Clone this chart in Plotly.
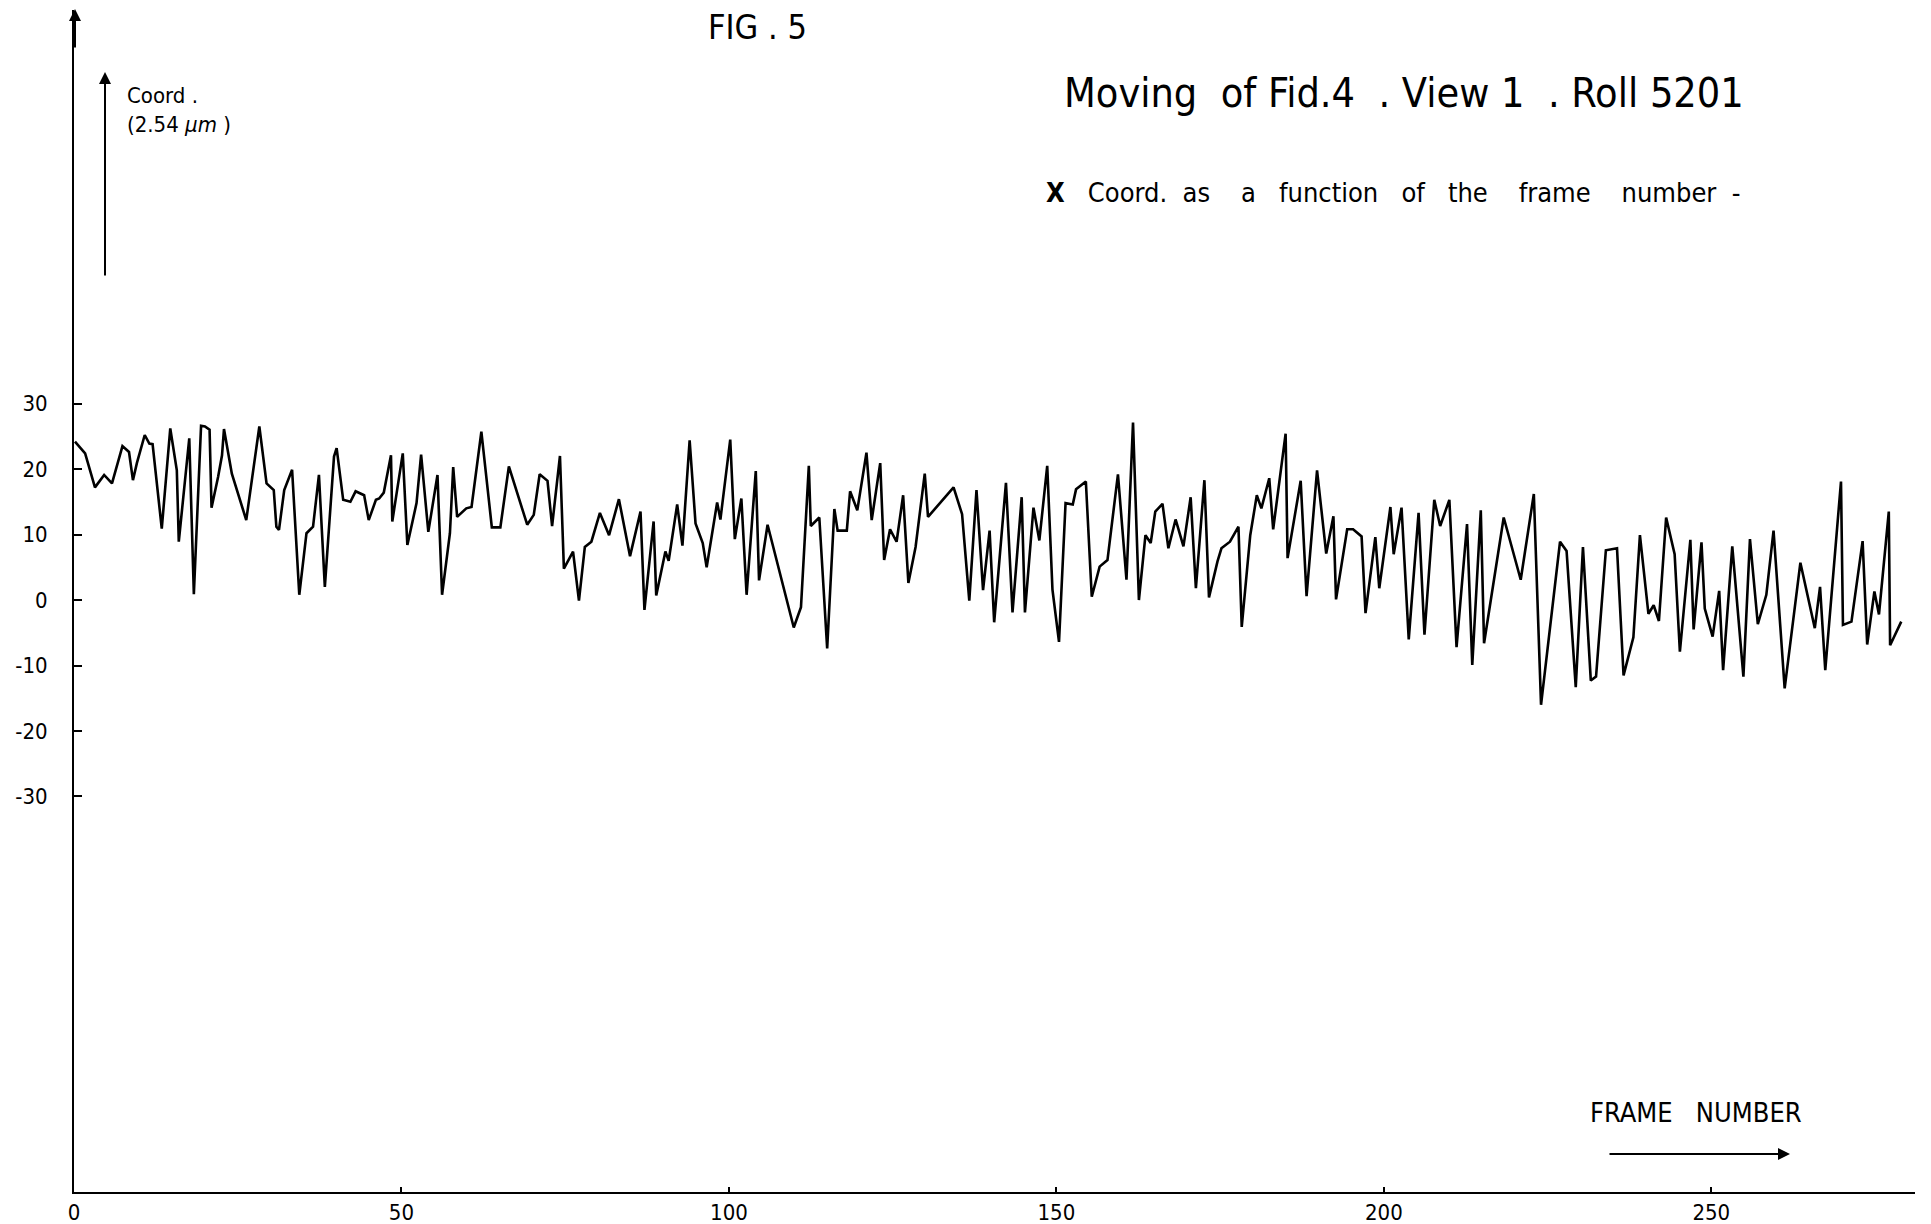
import plotly.graph_objects as go

# ---- data (frame number, X coordinate in units of 2.54 um) ----
frame_number = [
    0.15, 1.7, 3.2, 4.6, 5.8, 7.4, 8.4, 9.0, 9.6, 10.8, 11.5, 12.0, 13.4, 14.7, 15.7, 16.0, 17.6, 18.3,
    19.4, 20.0, 20.7, 21.0, 22.0, 22.6, 22.9, 24.1, 26.3, 28.3,
    29.4, 30.5, 30.9, 31.3, 32.1, 33.3, 34.4, 35.5, 36.5, 37.4, 38.3, 39.7, 40.1, 41.1, 42.2, 43.0,
    44.3, 45.0, 46.1, 46.6, 47.3, 48.4, 48.6, 50.2, 50.9, 52.3, 53.0, 54.1, 55.5, 56.2,
    57.4, 57.9, 58.5, 59.9, 60.7, 62.2, 63.8, 65.1, 66.4, 69.2, 70.2, 71.1, 72.3, 73.0, 74.2, 74.8,
    76.2, 77.1, 78.0, 79.0, 80.3, 81.7, 83.2,
    84.9, 86.5, 87.1, 88.5, 88.9, 90.3, 90.8, 92.1, 92.9, 94.0, 94.9, 96.0, 96.6, 98.2, 98.7, 100.2,
    100.9, 101.9, 102.7, 104.1, 104.6, 105.9, 109.9, 111.0, 112.2, 112.5,
    113.8, 115.0, 116.1, 116.6, 118.0, 118.5, 119.6, 121.0, 121.8, 123.1, 123.7, 124.6, 125.6, 126.6,
    127.4, 128.5, 129.9, 130.4, 132.7, 134.3, 135.6, 136.7, 137.8, 138.8, 139.8, 140.5,
    142.3, 143.3, 144.7, 145.2, 146.5, 147.4, 148.6, 149.4, 150.4, 151.4, 152.5, 153.0, 154.5, 155.4,
    156.6, 157.8, 159.4, 160.7, 161.7, 162.6, 163.6, 164.4, 165.1, 166.2, 167.1, 168.2,
    169.4, 170.5, 171.3, 172.6, 173.3, 174.6, 175.2, 176.5, 177.8, 178.3, 179.6, 180.6, 181.3, 182.5,
    183.1, 185.0, 185.3, 187.3, 188.2, 189.8, 191.2, 192.3, 192.7, 194.4, 195.3, 196.6,
    197.2, 198.7, 199.3, 201.0, 201.5, 202.7, 203.8, 205.3, 206.2, 207.7, 208.6, 210.0, 211.1, 212.7,
    213.5, 214.8, 215.3, 218.3, 220.9, 222.9, 224.0,
    226.9, 227.9, 229.3, 230.4, 231.6, 232.4, 233.9, 235.6, 236.6, 238.1, 239.1, 240.4, 241.2, 242.0,
    243.1, 244.4, 245.2, 246.8, 247.3, 248.5, 249.0, 250.2, 251.2, 251.8,
    253.2, 254.9, 255.9, 257.1, 258.4, 259.5, 261.2, 263.6, 265.8, 266.6, 267.4, 269.8, 270.1, 271.4,
    273.1, 273.8, 274.9, 275.6, 277.1, 277.3, 279.0,
]
x_coord = [
    24.2, 22.4, 17.2, 19.1, 17.8, 23.5, 22.6, 18.3, 20.9, 25.2, 23.9, 23.8, 10.9, 26.2, 19.8, 8.9, 24.7, 0.9,
    26.6, 26.5, 26.0, 14.1, 18.8, 22.1, 26.1, 19.3, 12.2, 26.5,
    17.8, 16.8, 11.2, 10.7, 16.8, 19.9, 0.8, 10.2, 11.2, 19.1, 2.0, 21.9, 23.2, 15.3, 15.0, 16.6,
    16.0, 12.2, 15.3, 15.5, 16.4, 22.1, 12.0, 22.4, 8.4, 14.8, 22.2, 10.4, 19.1, 0.8,
    10.2, 20.3, 12.7, 14.0, 14.2, 25.7, 11.1, 11.1, 20.4, 11.5, 13.0, 19.2, 18.2, 11.3, 22.0, 4.8,
    7.4, -0.1, 8.1, 8.9, 13.3, 9.9, 15.4,
    6.7, 13.5, -1.5, 12.0, 0.7, 7.4, 6.0, 14.6, 8.3, 24.4, 11.7, 8.7, 5.0, 14.9, 12.3, 24.5,
    9.3, 15.5, 0.8, 19.7, 3.0, 11.5, -4.2, -1.1, 20.5, 11.3,
    12.6, -7.4, 13.9, 10.6, 10.6, 16.6, 13.7, 22.5, 12.2, 20.9, 6.1, 10.8, 8.9, 16.0,
    2.6, 8.1, 19.3, 12.7, 15.3, 17.2, 13.1, -0.1, 16.8, 1.5, 10.6, -3.4,
    17.9, -1.9, 15.7, -1.9, 14.1, 9.1, 20.5, 1.6, -6.4, 14.8, 14.6, 16.9, 18.1, 0.5,
    5.1, 6.1, 19.2, 3.1, 27.1, 0.0, 9.9, 8.7, 13.5, 14.7, 7.9, 12.3,
    8.2, 15.7, 1.8, 18.3, 0.4, 5.9, 7.9, 8.9, 11.2, -4.1, 9.9, 16.0, 14.0, 18.6,
    10.8, 25.4, 6.4, 18.2, 0.6, 19.8, 7.1, 12.8, 0.1, 10.8, 10.8, 9.7,
    -2.0, 9.6, 1.8, 14.2, 7.0, 14.1, -6.0, 13.3, -5.3, 15.3, 11.3, 15.3, -7.2, 11.6,
    -9.9, 13.7, -6.6, 12.6, 3.1, 16.2, -16.0,
    8.9, 7.5, -13.3, 8.1, -12.3, -11.7, 7.6, 7.9, -11.5, -5.7, 9.9, -2.1, -0.8, -3.2,
    12.6, 7.0, -7.9, 9.2, -4.5, 8.8, -1.3, -5.6, 1.4, -10.7,
    8.2, -11.7, 9.3, -3.7, 0.8, 10.6, -13.5, 5.7, -4.3, 2.0, -10.7, 18.1, -3.8, -3.3,
    9.0, -6.8, 1.3, -2.2, 13.5, -6.9, -3.3,
]
y_tick_values = [30, 20, 10, 0, -10, -20, -30]
y_tick_labels = ["30", "20", "10", "0", "-10", "-20", "-30"]
x_tick_values = [0, 50, 100, 150, 200, 250]
x_tick_labels = ["0", "50", "100", "150", "200", "250"]

title_text = "Moving  of Fid.4  . View 1  . Roll 5201"
subtitle_text = "<b>X</b>   Coord.  as    a   function   of   the    frame    number  -"
fig_label = "FIG . 5"
y_label = "Coord .<br>(2.54 <i>μm</i> )"
x_label = "FRAME   NUMBER"

# ---- layout geometry (pixels of the 1931x1224 page) ----
WIDTH, HEIGHT = 1931, 1224
L, R, T, B = 74, 16, 10, 32
PW = WIDTH - L - R
PH = HEIGHT - T - B
BOTTOM = HEIGHT - B

def px(x):
    return (x - L) / PW

def py(y):
    return (BOTTOM - y) / PH

FONT = "Liberation Sans Narrow, DejaVu Sans Condensed, Arial Narrow, sans-serif"

fig = go.Figure()
fig.add_trace(go.Scatter(
    x=frame_number, y=x_coord, mode="lines",
    line=dict(color="black", width=2.6),
    showlegend=False, hoverinfo="skip",
))

fig.update_layout(
    width=WIDTH, height=HEIGHT,
    margin=dict(l=L, r=R, t=T, b=B, autoexpand=False),
    paper_bgcolor="white", plot_bgcolor="white",
    font=dict(family=FONT, color="black", size=22),
    showlegend=False,
)
fig.update_xaxes(
    range=[0, 281.1], showgrid=False, zeroline=False, automargin=False,
    showline=True, linecolor="black", linewidth=2,
    tickmode="array", tickvals=x_tick_values, ticktext=x_tick_labels,
    ticks="inside", ticklen=5, tickwidth=2, tickcolor="black",
    ticklabelstandoff=0,
    tickfont=dict(size=22, family=FONT),
)
fig.update_yaxes(
    range=[-90.4, 90.1], showgrid=False, zeroline=False, automargin=False,
    showline=True, linecolor="black", linewidth=2,
    tickmode="array", tickvals=y_tick_values, ticktext=y_tick_labels,
    ticks="inside", ticklen=8, tickwidth=2, tickcolor="black",
    ticklabelstandoff=20,
    tickfont=dict(size=22, family=FONT),
)

ann = []
ann.append(dict(x=px(757), y=py(27), xref="paper", yref="paper", text=fig_label, showarrow=False,
                font=dict(size=34, family=FONT), xanchor="center", yanchor="middle"))
ann.append(dict(x=px(1404), y=py(93), xref="paper", yref="paper", text=title_text, showarrow=False,
                font=dict(size=41, family=FONT), xanchor="center", yanchor="middle"))
ann.append(dict(x=px(1044), y=py(193), xref="paper", yref="paper", text=subtitle_text, showarrow=False,
                font=dict(size=27, family=FONT), xanchor="left", yanchor="middle"))
ann.append(dict(x=px(125), y=py(110), xref="paper", yref="paper", text=y_label, showarrow=False,
                font=dict(size=22, family=FONT), xanchor="left", yanchor="middle", align="left"))
ann.append(dict(x=px(1696), y=py(1112), xref="paper", yref="paper", text=x_label, showarrow=False,
                font=dict(size=27, family=FONT), xanchor="center", yanchor="middle"))
# arrows
ann.append(dict(x=px(75), y=py(9), xref="paper", yref="paper", ax=0, ay=40, text="", showarrow=True,
                arrowhead=2, arrowsize=1.2, arrowwidth=2, arrowcolor="black"))
ann.append(dict(x=px(105), y=py(72), xref="paper", yref="paper", ax=0, ay=205, text="", showarrow=True,
                arrowhead=2, arrowsize=1.2, arrowwidth=2, arrowcolor="black"))
ann.append(dict(x=px(1790), y=py(1154), xref="paper", yref="paper", ax=-182, ay=0, text="", showarrow=True,
                arrowhead=2, arrowsize=1.2, arrowwidth=2, arrowcolor="black"))
fig.update_layout(annotations=ann)

fig.write_html("out.html")
